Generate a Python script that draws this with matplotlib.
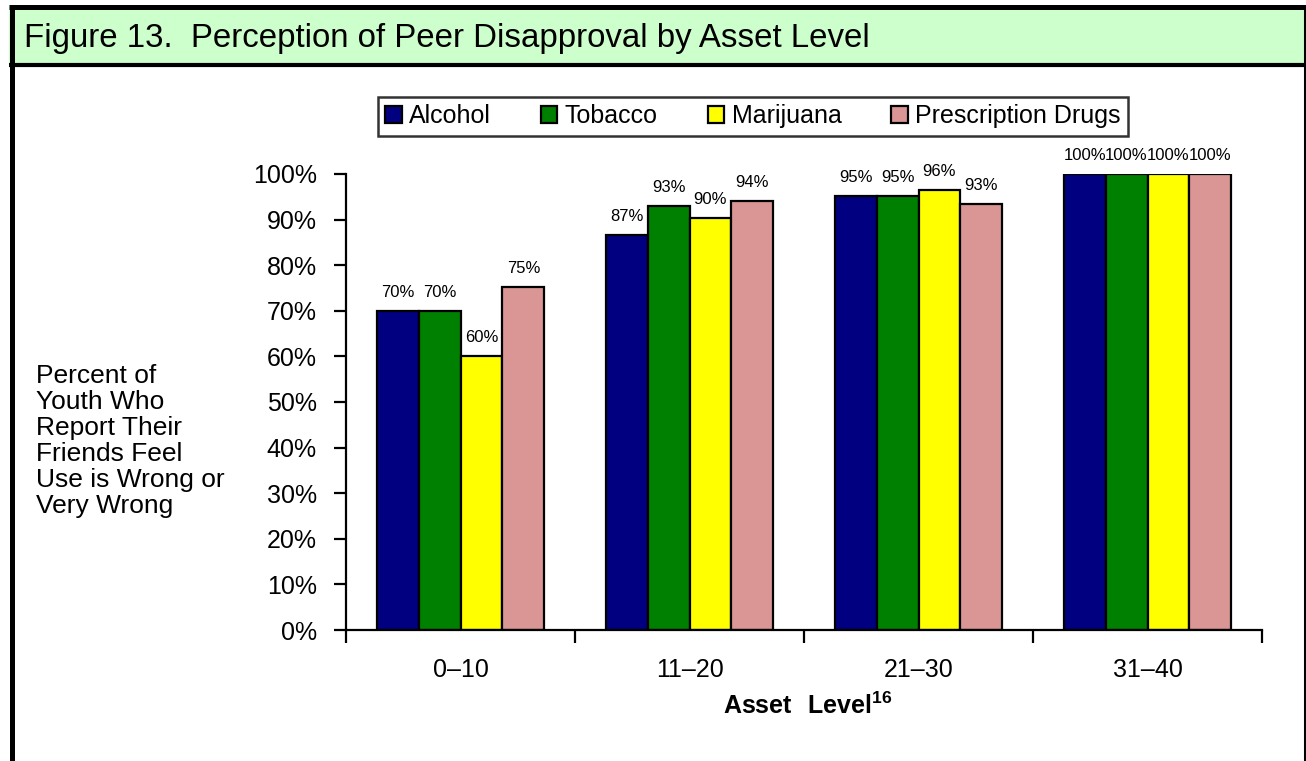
import numpy as np
import matplotlib
matplotlib.use('Agg')
from matplotlib import pyplot as plt
from matplotlib.patches import Rectangle
from matplotlib.lines import Line2D

plt.rcParams['font.family'] = ['Liberation Sans', 'DejaVu Sans']
plt.rcParams['mathtext.fontset'] = 'custom'
plt.rcParams['mathtext.rm'] = 'Liberation Sans'
plt.rcParams['mathtext.bf'] = 'Liberation Sans:bold'

# data
levels = ['0\u201310', '11\u201320', '21\u201330', '31\u201340']
series = ['Alcohol', 'Tobacco', 'Marijuana', 'Prescription Drugs']
alcohol = [70.0, 86.7, 95.2, 100.0]
tobacco = [70.0, 93.0, 95.2, 100.0]
marijuana = [60.0, 90.4, 96.4, 100.0]
prescription = [75.3, 94.0, 93.4, 100.0]
colors = ['#000080', '#008000', '#FFFF00', '#DA9694']

W, H = 1306, 761
fig = plt.figure(figsize=(W / 100, H / 100), dpi=100)

# header band and frame
fig.patches.append(Rectangle((9 / W, 1 - 64 / H), 1 - 9 / W, 57 / H, transform=fig.transFigure,
                             facecolor='#CCFFCC', edgecolor='none', zorder=0))
def fline(x0, y0, x1, y1, lw):
    fig.lines.append(Line2D([x0 / W, x1 / W], [1 - y0 / H, 1 - y1 / H], transform=fig.transFigure,
                            color='black', lw=lw, solid_capstyle='butt'))
fline(9, 7, W, 7, 3.6)
fline(11.5, 5, 11.5, H, 3.6)
fline(1304.5, 5, 1304.5, H, 2.2)
fline(9, 64.5, W, 64.5, 3.0)

fig.text(24 / W, 1 - 38 / H, 'Figure 13.  Perception of Peer Disapproval by Asset Level',
         fontsize=23.8, va='center', ha='left')

ax = fig.add_axes([346 / W, 1 - 630 / H, 916 / W, 456 / H])
x = np.arange(len(levels))
w = 0.183
vals = [alcohol, tobacco, marijuana, prescription]
for i, (name, v, c) in enumerate(zip(series, vals, colors)):
    bars = ax.bar(x + (i - 1.5) * w, v, w, color=c, edgecolor='black', linewidth=1.6, label=name)
    for b, val in zip(bars, v):
        ax.annotate(f'{val:.0f}%', (b.get_x() + b.get_width() / 2, b.get_height()),
                    xytext=(0, 8), textcoords='offset points', ha='center', va='bottom', fontsize=12)

ax.set_xlim(-0.5, 3.5)
ax.set_ylim(0, 100)
ax.set_yticks(np.arange(0, 101, 10))
ax.set_yticklabels([f'{t}%' for t in range(0, 101, 10)], fontsize=18)
ax.set_xticks(np.arange(-0.5, 3.6, 1))
ax.set_xticklabels([])
ax.set_xticks(x, minor=True)
ax.set_xticklabels(levels, minor=True, fontsize=18)
ax.tick_params(axis='x', which='minor', length=0, pad=20)
ax.tick_params(axis='x', which='major', length=9, width=1.6, direction='out')
ax.tick_params(axis='y', length=9, width=1.6, direction='out', pad=12)
for s in ['top', 'right']:
    ax.spines[s].set_visible(False)
for s in ['left', 'bottom']:
    ax.spines[s].set_linewidth(1.6)

fig.text(808 / W, 1 - 706 / H, r'$\mathbf{Asset\ \ Level}^{\mathbf{16}}$', ha='center', va='center', fontsize=18)

fig.text(36 / W, 1 - 441 / H, 'Percent of\nYouth Who\nReport Their\nFriends Feel\nUse is Wrong or\nVery Wrong',
         ha='left', va='center', fontsize=19, linespacing=1.11)

leg = fig.legend(loc='center', bbox_to_anchor=(753 / W, 1 - 116 / H), ncol=4, fontsize=18,
                 frameon=True, fancybox=False, handlelength=0.65, handleheight=0.65,
                 handletextpad=0.3, columnspacing=2.0, borderpad=0.3, borderaxespad=0, edgecolor='black')
leg.get_frame().set_linewidth(1.8)

fig.savefig('out.png', dpi=100)
